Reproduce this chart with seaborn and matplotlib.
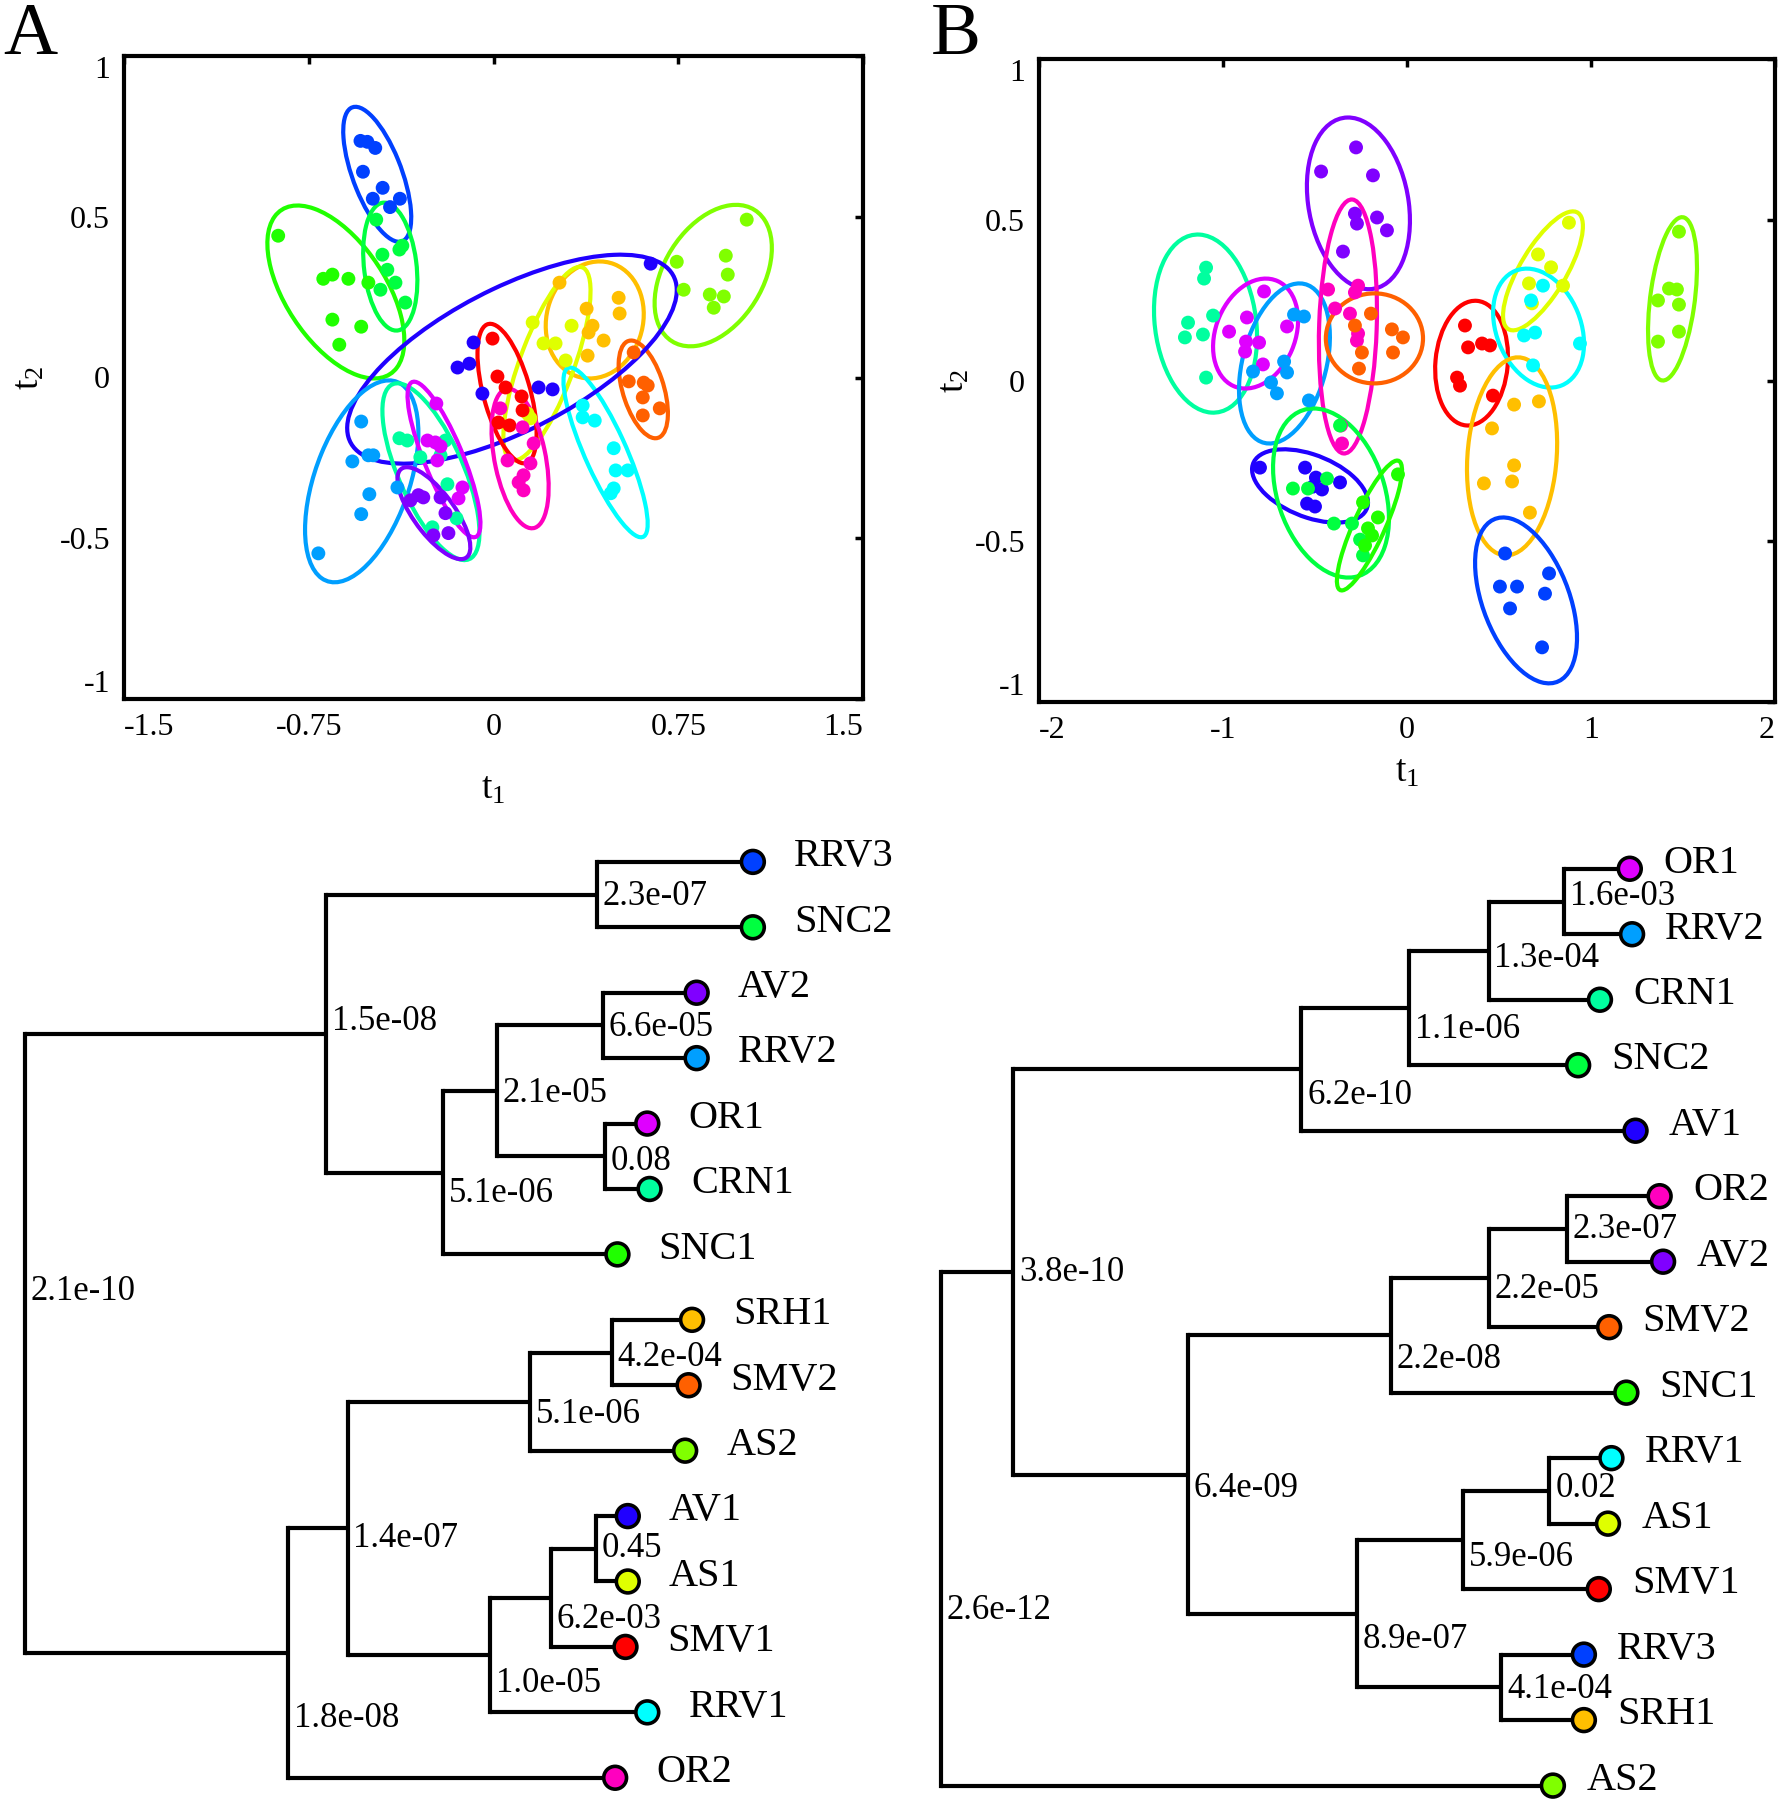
import colorsys
import numpy as np
import pandas as pd
import matplotlib
matplotlib.use("Agg")
import matplotlib.pyplot as plt
import seaborn as sns
from matplotlib.patches import Ellipse

# ---------------- classes & colours ----------------
classes = ['SMV1', 'SMV2', 'SRH1', 'AS1', 'AS2', 'SNC1', 'SNC2', 'CRN1',
           'RRV1', 'RRV2', 'RRV3', 'AV1', 'AV2', 'OR1', 'OR2']

# ---------------- panel A scores (t1, t2) ----------------
A_x = {
    'RRV3': [-0.54, -0.512, -0.48, -0.53, -0.45, -0.49, -0.42, -0.38],
    'SNC1': [-0.874, -0.691, -0.654, -0.589, -0.508, -0.654, -0.537, -0.626],
    'SNC2': [-0.476, -0.382, -0.37, -0.451, -0.431, -0.398, -0.459, -0.358],
    'AS2': [1.028, 0.943, 0.951, 0.744, 0.772, 0.878, 0.935, 0.894],
    'SRH1': [0.268, 0.508, 0.512, 0.378, 0.402, 0.386, 0.447, 0.382],
    'AS1': [0.159, 0.317, 0.203, 0.252, 0.293, 0.138, 0.15],
    'SMV2': [0.569, 0.549, 0.61, 0.626, 0.606, 0.675, 0.606],
    'RRV1': [0.362, 0.362, 0.411, 0.488, 0.496, 0.545, 0.488, 0.476],
    'AV1': [-0.081, -0.146, -0.098, -0.045, 0.183, 0.24, 0.638],
    'SMV1': [-0.004, 0.016, 0.049, 0.114, 0.02, 0.065, 0.118],
    'OR2': [0.028, 0.118, 0.163, 0.057, 0.15, 0.122, 0.102, 0.122],
    'RRV2': [-0.537, -0.573, -0.508, -0.488, -0.504, -0.537, -0.39, -0.711],
    'CRN1': [-0.382, -0.35, -0.297, -0.215, -0.187, -0.15, -0.248, -0.195],
    'OR1': [-0.232, -0.268, -0.236, -0.215, -0.228, -0.126, -0.142],
    'AV2': [-0.337, -0.305, -0.285, -0.215, -0.195, -0.244, -0.183],
}
A_y = {
    'RRV3': [0.736, 0.733, 0.714, 0.64, 0.59, 0.556, 0.53, 0.556],
    'SNC1': [0.441, 0.307, 0.32, 0.307, 0.295, 0.18, 0.158, 0.102],
    'SNC2': [0.491, 0.398, 0.41, 0.382, 0.335, 0.295, 0.273, 0.233],
    'AS2': [0.491, 0.379, 0.32, 0.36, 0.273, 0.258, 0.252, 0.217],
    'SRH1': [0.295, 0.248, 0.199, 0.214, 0.161, 0.14, 0.115, 0.068],
    'AS1': [0.171, 0.161, 0.106, 0.106, 0.053, -0.112, -0.127],
    'SMV2': [0.078, -0.012, -0.016, -0.025, -0.062, -0.096, -0.118],
    'RRV1': [-0.087, -0.124, -0.134, -0.22, -0.289, -0.289, -0.345, -0.36],
    'AV1': [0.109, 0.031, 0.043, -0.05, -0.031, -0.037, 0.354],
    'SMV1': [0.121, 0.003, -0.031, -0.059, -0.14, -0.149, -0.102],
    'OR2': [-0.096, -0.155, -0.205, -0.258, -0.267, -0.304, -0.326, -0.351],
    'RRV2': [-0.137, -0.261, -0.242, -0.242, -0.363, -0.425, -0.342, -0.547],
    'CRN1': [-0.189, -0.196, -0.248, -0.242, -0.332, -0.438, -0.466, -0.196],
    'OR1': [-0.081, -0.196, -0.202, -0.214, -0.258, -0.342, -0.376],
    'AV2': [-0.382, -0.366, -0.373, -0.373, -0.422, -0.491, -0.484],
}
# ellipses of panel A: centre, half x-extent, half y-extent, tilt (correlation)
A_ell_cx = {'RRV3': -0.472, 'SNC1': -0.640, 'SNC2': -0.419, 'AS2': 0.892,
            'SRH1': 0.411, 'AS1': 0.217, 'SMV2': 0.608, 'RRV1': 0.455,
            'AV1': 0.075, 'SMV1': 0.055, 'OR2': 0.108, 'RRV2': -0.535,
            'CRN1': -0.254, 'OR1': -0.201, 'AV2': -0.242}
A_ell_cy = {'RRV3': 0.632, 'SNC1': 0.266, 'SNC2': 0.345, 'AS2': 0.317,
            'SRH1': 0.179, 'AS1': 0.043, 'SMV2': -0.037, 'RRV1': -0.233,
            'AV1': 0.057, 'SMV1': -0.050, 'OR2': -0.252, 'RRV2': -0.323,
            'CRN1': -0.293, 'OR1': -0.255, 'AV2': -0.422}
A_ell_sx = {'RRV3': 0.138, 'SNC1': 0.278, 'SNC2': 0.110, 'AS2': 0.238,
            'SRH1': 0.199, 'AS1': 0.177, 'SMV2': 0.100, 'RRV1': 0.171,
            'AV1': 0.669, 'SMV1': 0.120, 'OR2': 0.116, 'RRV2': 0.230,
            'CRN1': 0.197, 'OR1': 0.148, 'AV2': 0.148}
A_ell_sy = {'RRV3': 0.210, 'SNC1': 0.269, 'SNC2': 0.199, 'AS2': 0.220,
            'SRH1': 0.182, 'AS1': 0.301, 'SMV2': 0.152, 'RRV1': 0.264,
            'AV1': 0.325, 'SMV1': 0.217, 'OR2': 0.217, 'RRV2': 0.314,
            'CRN1': 0.275, 'OR1': 0.242, 'AV2': 0.143}
A_ell_r = {'RRV3': -0.64, 'SNC1': -0.56, 'SNC2': -0.22, 'AS2': 0.39,
           'SRH1': 0.10, 'AS1': 0.75, 'SMV2': -0.49, 'RRV1': -0.84,
           'AV1': 0.66, 'SMV1': -0.57, 'OR2': -0.41, 'RRV2': 0.48,
           'CRN1': -0.69, 'OR1': -0.82, 'AV2': -0.74}

# ---------------- panel B scores (t1, t2) ----------------
B_x = {
    'AV2': [-0.277, -0.467, -0.185, -0.283, -0.272, -0.163, -0.109, -0.348],
    'CRN1': [-1.092, -1.103, -1.054, -1.19, -1.207, -1.109, -1.092],
    'OR1': [-0.777, -0.87, -0.967, -0.875, -0.804, -0.88, -0.652, -0.783],
    'RRV2': [-0.614, -0.56, -0.668, -0.652, -0.837, -0.739, -0.707, -0.533],
    'OR2': [-0.429, -0.266, -0.283, -0.391, -0.31, -0.266, -0.272, -0.359, -0.353],
    'SMV2': [-0.196, -0.082, -0.022, -0.076, -0.245, -0.261, -0.283],
    'SMV1': [0.315, 0.332, 0.408, 0.451, 0.272, 0.288, 0.467],
    'AS1': [0.88, 0.712, 0.783, 0.663, 0.848, 0.679],
    'RRV1': [0.739, 0.674, 0.636, 0.696, 0.94, 0.685],
    'AS2': [1.478, 1.424, 1.467, 1.364, 1.478, 1.478, 1.364],
    'SRH1': [0.582, 0.717, 0.462, 0.582, 0.571, 0.418, 0.668],
    'RRV3': [0.533, 0.505, 0.598, 0.772, 0.75, 0.56, 0.734],
    'AV1': [-0.799, -0.554, -0.495, -0.364, -0.462, -0.511, -0.543, -0.5],
    'SNC2': [-0.364, -0.62, -0.538, -0.435, -0.397, -0.299, -0.255, -0.239],
    'SNC1': [-0.049, -0.239, -0.158, -0.212, -0.228, -0.19],
}
B_y = {
    'AV2': [0.725, 0.65, 0.638, 0.519, 0.488, 0.507, 0.467, 0.401],
    'CRN1': [0.351, 0.317, 0.202, 0.18, 0.134, 0.143, 0.009],
    'OR1': [0.277, 0.196, 0.152, 0.121, 0.118, 0.09, 0.168, 0.05],
    'RRV2': [0.205, 0.199, 0.059, 0.025, 0.028, -0.006, -0.04, -0.062],
    'OR2': [0.283, 0.295, 0.274, 0.224, 0.208, 0.146, 0.124, -0.14, -0.196],
    'SMV2': [0.208, 0.159, 0.134, 0.087, 0.087, 0.037, 0.171],
    'SMV1': [0.171, 0.103, 0.115, 0.109, 0.009, -0.016, -0.047],
    'AS1': [0.491, 0.392, 0.352, 0.302, 0.295, 0.24],
    'RRV1': [0.295, 0.249, 0.14, 0.149, 0.115, 0.047],
    'AS2': [0.463, 0.286, 0.283, 0.249, 0.236, 0.152, 0.121],
    'SRH1': [-0.075, -0.065, -0.149, -0.264, -0.314, -0.32, -0.411],
    'RRV3': [-0.538, -0.641, -0.641, -0.6, -0.663, -0.709, -0.83],
    'AV1': [-0.271, -0.271, -0.302, -0.317, -0.339, -0.33, -0.383, -0.392],
    'SNC2': [-0.14, -0.336, -0.336, -0.305, -0.445, -0.445, -0.495, -0.544],
    'SNC1': [-0.292, -0.379, -0.426, -0.46, -0.513, -0.482],
}
B_ell_cx = {'AV2': -0.264, 'CRN1': -1.095, 'OR1': -0.823, 'RRV2': -0.666,
            'OR2': -0.321, 'SMV2': -0.177, 'SMV1': 0.351, 'AS1': 0.739,
            'RRV1': 0.715, 'AS2': 1.443, 'SRH1': 0.571, 'RRV3': 0.647,
            'AV1': -0.527, 'SNC2': -0.413, 'SNC1': -0.204}
B_ell_cy = {'AV2': 0.551, 'CRN1': 0.177, 'OR1': 0.146, 'RRV2': 0.053,
            'OR2': 0.168, 'SMV2': 0.131, 'SMV1': 0.054, 'AS1': 0.341,
            'RRV1': 0.163, 'AS2': 0.254, 'SRH1': -0.236, 'RRV3': -0.684,
            'AV1': -0.328, 'SNC2': -0.350, 'SNC1': -0.451}
B_ell_sx = {'AV2': 0.280, 'CRN1': 0.280, 'OR1': 0.231, 'RRV2': 0.247,
            'OR2': 0.158, 'SMV2': 0.264, 'SMV1': 0.198, 'AS1': 0.217,
            'RRV1': 0.247, 'AS2': 0.133, 'SRH1': 0.245, 'RRV3': 0.277,
            'AV1': 0.315, 'SNC2': 0.315, 'SNC1': 0.177}
B_ell_sy = {'AV2': 0.267, 'CRN1': 0.277, 'OR1': 0.171, 'RRV2': 0.249,
            'OR2': 0.395, 'SMV2': 0.140, 'SMV1': 0.194, 'AS1': 0.185,
            'RRV1': 0.185, 'AS2': 0.254, 'SRH1': 0.308, 'RRV3': 0.258,
            'AV1': 0.114, 'SNC2': 0.263, 'SNC1': 0.202}
B_ell_r = {'AV2': -0.20, 'CRN1': -0.15, 'OR1': 0.24, 'RRV2': 0.33,
           'OR2': 0.13, 'SMV2': 0.0, 'SMV1': 0.10, 'AS1': 0.75,
           'RRV1': -0.26, 'AS2': 0.39, 'SRH1': 0.13, 'RRV3': -0.45,
           'AV1': -0.45, 'SNC2': -0.30, 'SNC1': 0.85}

A_xticks = [-1.5, -0.75, 0, 0.75, 1.5]
A_xticklabels = ['-1.5', '-0.75', '0', '0.75', '1.5']
A_yticks = [-1, -0.5, 0, 0.5, 1]
A_yticklabels = ['-1', '-0.5', '0', '0.5', '1']
B_xticks = [-2, -1, 0, 1, 2]
B_xticklabels = ['-2', '-1', '0', '1', '2']
B_yticks = [-1, -0.5, 0, 0.5, 1]
B_yticklabels = ['-1', '-0.5', '0', '0.5', '1']

# ---------------- dendrogram A ----------------
L_leaves = ['RRV3', 'SNC2', 'AV2', 'RRV2', 'OR1', 'CRN1', 'SNC1', 'SRH1',
            'SMV2', 'AS2', 'AV1', 'AS1', 'SMV1', 'RRV1', 'OR2']
L_leaf_h = [6.34, 6.34, 5.85, 5.85, 5.42, 5.44, 5.16, 5.81, 5.78, 5.75,
            5.25, 5.25, 5.23, 5.42, 5.14]
L_merge_a = [0, 2, 4, 16, 18, 15, 7, 21, 10, 23, 24, 22, 26, 20]
L_merge_b = [1, 3, 5, 17, 6, 19, 8, 9, 11, 12, 13, 25, 14, 27]
L_merge_h = [4.98, 5.03, 5.05, 4.11, 3.64, 2.62, 5.11, 4.40, 4.97, 4.58,
             4.05, 2.81, 2.29, 0.0]
L_merge_p = ['2.3e-07', '6.6e-05', '0.08', '2.1e-05', '5.1e-06', '1.5e-08',
             '4.2e-04', '5.1e-06', '0.45', '6.2e-03', '1.0e-05', '1.4e-07',
             '1.8e-08', '2.1e-10']
L_label_row = [0.53, 2.53, 4.58, 3.54, 5.07, 2.44, 7.58, 8.44, 10.5, 11.58,
               12.56, 10.35, 13.09, 6.56]

# ---------------- dendrogram B ----------------
R_leaves = ['OR1', 'RRV2', 'CRN1', 'SNC2', 'AV1', 'OR2', 'AV2', 'SMV2',
            'SNC1', 'RRV1', 'AS1', 'SMV1', 'RRV3', 'SRH1', 'AS2']
R_leaf_h = [6.00, 6.02, 5.74, 5.55, 6.05, 6.26, 6.29, 5.82, 5.97, 5.84,
            5.81, 5.73, 5.60, 5.60, 5.33]
R_merge_a = [0, 15, 16, 17, 5, 19, 20, 9, 22, 12, 23, 21, 18, 27]
R_merge_b = [1, 2, 3, 4, 6, 7, 8, 10, 11, 13, 24, 25, 26, 14]
R_merge_h = [5.43, 4.77, 4.08, 3.14, 5.45, 4.77, 3.92, 5.30, 4.55, 4.88,
             3.62, 2.15, 0.63, 0.0]
R_merge_p = ['1.6e-03', '1.3e-04', '1.1e-06', '6.2e-10', '2.3e-07',
             '2.2e-05', '2.2e-08', '0.02', '5.9e-06', '4.1e-04', '8.9e-07',
             '6.4e-09', '3.8e-10', '2.6e-12']
R_label_row = [0.42, 1.37, 2.46, 3.46, 5.51, 6.42, 7.49, 9.47, 10.51, 12.54,
               11.77, 9.47, 6.16, 11.33]

# ---------------- style ----------------
sns.set_theme(style="white")
plt.rcParams['font.family'] = ['Liberation Serif', 'DejaVu Serif']
plt.rcParams['mathtext.fontset'] = 'custom'
plt.rcParams['mathtext.rm'] = 'Liberation Serif'
plt.rcParams['mathtext.it'] = 'Liberation Serif:italic'
plt.rcParams['axes.unicode_minus'] = False
for k in ['text.color', 'axes.labelcolor', 'xtick.color', 'ytick.color', 'axes.edgecolor']:
    plt.rcParams[k] = 'black'

palette = {c: colorsys.hsv_to_rgb(i / 16.0, 1.0, 1.0) for i, c in enumerate(classes)}

W, H = 1779, 1800
fig = plt.figure(figsize=(W / 100, H / 100), dpi=100)
fig.patch.set_facecolor('white')


def scores_frame(xd, yd):
    rows = []
    for c in xd:
        for xv, yv in zip(xd[c], yd[c]):
            rows.append((c, xv, yv))
    return pd.DataFrame(rows, columns=['cls', 't1', 't2'])


def scatter_panel(rect, xd, yd, ecx, ecy, esx, esy, er, xlim, xticks, xtl,
                  yticks, ytl, xlabpad, ylabpad):
    ax = fig.add_axes(rect)
    df = scores_frame(xd, yd)
    for c in ecx:
        sx, sy, r = esx[c], esy[c], er[c]
        S = np.array([[sx * sx, r * sx * sy], [r * sx * sy, sy * sy]])
        vals, vecs = np.linalg.eigh(S)
        order = vals.argsort()[::-1]
        vals, vecs = vals[order], vecs[:, order]
        ang = np.degrees(np.arctan2(vecs[1, 0], vecs[0, 0]))
        e = Ellipse((ecx[c], ecy[c]), 2 * np.sqrt(vals[0]), 2 * np.sqrt(vals[1]),
                    angle=ang, fill=False, edgecolor=palette[c], lw=3.0, zorder=2)
        ax.add_patch(e)
    sns.scatterplot(data=df, x='t1', y='t2', hue='cls', palette=palette,
                    s=100, linewidth=0, legend=False, ax=ax, zorder=3)
    ax.set_xlim(*xlim)
    ax.set_ylim(-1, 1)
    ax.set_xticks(xticks)
    ax.set_xticklabels(xtl)
    ax.set_yticks(yticks)
    ax.set_yticklabels(ytl)
    ax.tick_params(direction='in', top=True, right=True, length=6, width=2.5,
                   labelsize=23, pad=10, colors='black')
    xl = ax.get_xticklabels()
    xl[0].set_horizontalalignment('left')
    xl[-1].set_horizontalalignment('right')
    yl = ax.get_yticklabels()
    yl[0].set_verticalalignment('bottom')
    yl[-1].set_verticalalignment('top')
    for s in ax.spines.values():
        s.set_linewidth(3)
        s.set_color('black')
    ax.set_xlabel(r'$\mathrm{t}_{1}$', fontsize=27, labelpad=xlabpad)
    ax.set_ylabel(r'$\mathrm{t}_{2}$', fontsize=27, labelpad=ylabpad)
    return ax


scatter_panel([124 / W, 1 - 699 / H, 739 / W, 643 / H], A_x, A_y,
              A_ell_cx, A_ell_cy, A_ell_sx, A_ell_sy, A_ell_r, (-1.5, 1.5),
              A_xticks, A_xticklabels, A_yticks, A_yticklabels, 22, 9)
scatter_panel([1039 / W, 1 - 702 / H, 736 / W, 643 / H], B_x, B_y,
              B_ell_cx, B_ell_cy, B_ell_sx, B_ell_sy, B_ell_r, (-2, 2),
              B_xticks, B_xticklabels, B_yticks, B_yticklabels, 7, 2)

fig.text(3 / W, 1 - 3 / H, 'A', fontsize=54, ha='left', va='top')
fig.text(931 / W, 1 - 3 / H, 'B', fontsize=54, ha='left', va='top')


def dendro(rect, xlim, ylim, leaves, leaf_h, ma, mb, mh, mp, lrow, leaf_off):
    ax = fig.add_axes(rect)
    ax.set_xlim(*xlim)
    ax.set_ylim(*ylim)
    ax.axis('off')
    n = len(leaves)
    pos_x = list(leaf_h)
    pos_y = list(range(n))
    for a, b, h in zip(ma, mb, mh):
        ya, yb = pos_y[a], pos_y[b]
        ax.plot([h, h], [ya, yb], color='black', lw=3.0, solid_capstyle='projecting', zorder=1)
        ax.plot([h, pos_x[a]], [ya, ya], color='black', lw=3.0, zorder=1)
        ax.plot([h, pos_x[b]], [yb, yb], color='black', lw=3.0, zorder=1)
        pos_x.append(h)
        pos_y.append((ya + yb) / 2.0)
    for h, p, r in zip(mh, mp, lrow):
        ax.text(h + 0.05, r, p, fontsize=25, ha='left', va='center')
    ldf = pd.DataFrame({'h': leaf_h, 'row': list(range(n)), 'cls': leaves})
    sns.scatterplot(data=ldf, x='h', y='row', hue='cls', palette=palette, s=270,
                    edgecolor='black', linewidth=2.6, legend=False, ax=ax,
                    zorder=3, clip_on=False)
    for h, r, name in zip(leaf_h, range(n), leaves):
        ax.text(h + leaf_off, r - 0.08, name, fontsize=29, ha='left', va='center')
    ax.set_xlabel('')
    ax.set_ylabel('')
    return ax


dendro([0, 0, 890 / W, 1000 / H], (-0.22, 7.535), (14.34, -0.946),
       L_leaves, L_leaf_h, L_merge_a, L_merge_b, L_merge_h, L_merge_p, L_label_row, 0.36)
dendro([890 / W, 0, 889 / W, 1000 / H], (-0.445, 7.30), (14.22, -1.05),
       R_leaves, R_leaf_h, R_merge_a, R_merge_b, R_merge_h, R_merge_p, R_label_row, 0.29)

fig.savefig('out.png', dpi=100, facecolor='white')
